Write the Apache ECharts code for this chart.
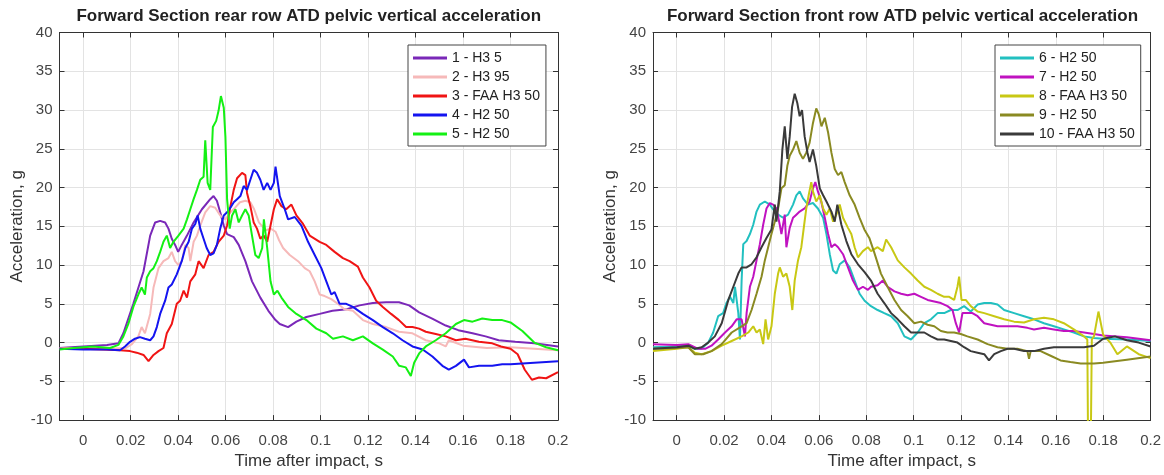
<!DOCTYPE html>
<html>
<head>
<meta charset="utf-8">
<script src="https://cdn.jsdelivr.net/npm/echarts@6/dist/echarts.min.js"></script>
<style>
  html, body { margin: 0; padding: 0; background: #fff; }
  #chart { width: 1164px; height: 475px; }
</style>
</head>
<body>
<div id="chart"></div>
<script>
// series names / colours
const namesRear = ['1 - H3 5', '2 - H3 95', '3 - FAA H3 50', '4 - H2 50', '5 - H2 50']
const namesFront = ['6 - H2 50', '7 - H2 50', '8 - FAA H3 50', '9 - H2 50', '10 - FAA H3 50']
const colorsRear = ['#7a28b8', '#f6b9b9', '#f01414', '#1414f0', '#14f014']
const colorsFront = ['#22c0c0', '#c012c0', '#c8c814', '#8a8a22', '#3a3a3a']

// [time s, acceleration g]
const s1 = [[-0.01,-0.7],[-0.005,-0.6],[0,-0.5],[0.005,-0.4],[0.01,-0.3],[0.0148,-0.1],[0.0169,1.2],[0.0211,5],[0.0254,9.2],[0.0282,13.8],[0.0303,15.5],[0.0324,15.7],[0.0345,15.5],[0.0359,14.7],[0.0373,13.4],[0.0387,12.6],[0.040,11.7],[0.0415,12.6],[0.0437,13.8],[0.0465,15.5],[0.05,17.2],[0.0535,18.5],[0.0549,18.9],[0.0563,18.3],[0.0577,16.8],[0.0592,15.1],[0.0606,14],[0.0634,13.6],[0.0655,12.6],[0.0683,10.5],[0.0711,7.9],[0.0746,5.8],[0.078,4.1],[0.081,2.9],[0.0828,2.4],[0.0863,2.0],[0.0898,2.7],[0.094,3.3],[0.0996,3.7],[0.105,4.1],[0.111,4.3],[0.1164,4.8],[0.122,5.1],[0.1276,5.2],[0.133,5.2],[0.1373,4.8],[0.1415,3.9],[0.147,3.1],[0.1527,2.2],[0.158,1.6],[0.164,1.2],[0.1695,0.8],[0.175,0.3],[0.182,0.1],[0.19,-0.1],[0.2,-0.5]]
const s2 = [[-0.01,-0.7],[0,-0.7],[0.01,-0.8],[0.018,-0.7],[0.0205,-0.2],[0.0232,0.8],[0.0246,2.0],[0.026,1.2],[0.0282,3.7],[0.0296,7.1],[0.0317,9.6],[0.0338,10.5],[0.0359,10.9],[0.0373,11.7],[0.0387,10.5],[0.0401,10],[0.0415,10.5],[0.043,12.6],[0.0444,12.2],[0.0451,10.5],[0.0465,13],[0.0479,13.8],[0.0493,15.1],[0.0514,16.8],[0.0535,17.6],[0.0556,17.4],[0.0577,16.4],[0.0599,15.9],[0.062,16.8],[0.064,17.4],[0.066,18.1],[0.0683,18.3],[0.0704,18.1],[0.072,17.2],[0.074,15.5],[0.0768,14.5],[0.079,14.7],[0.081,14.3],[0.0825,13.2],[0.0842,12.2],[0.087,11.3],[0.0905,10.5],[0.0933,9.6],[0.0954,9.2],[0.0975,7.9],[0.0996,6.2],[0.1017,6.0],[0.1045,5.6],[0.1073,5.0],[0.110,4.3],[0.1136,4.1],[0.1178,2.9],[0.122,2.4],[0.1276,2.0],[0.133,1.4],[0.1387,1.2],[0.1443,0.3],[0.15,-0.1],[0.1527,-0.5],[0.154,0.3],[0.16,-0.4],[0.17,-0.7],[0.18,-0.6],[0.19,-0.8],[0.2,-1]]
const s3 = [[-0.01,-0.8],[0,-0.8],[0.0085,-0.9],[0.0155,-1],[0.0197,-1.1],[0.0225,-1.3],[0.0254,-1.6],[0.0275,-2.4],[0.0296,-1.6],[0.0317,-1.1],[0.0338,-0.7],[0.0352,1.2],[0.0373,2.4],[0.0394,5],[0.0408,5.4],[0.0423,6.7],[0.0437,5.8],[0.0451,7.9],[0.0472,8.8],[0.0486,10.5],[0.0507,9.6],[0.0528,11.3],[0.0549,11.7],[0.057,13],[0.0592,13.8],[0.0606,15.1],[0.062,17.6],[0.0634,19.7],[0.0648,21.2],[0.0669,21.9],[0.0683,21.6],[0.069,19.3],[0.0704,17.6],[0.0718,15.5],[0.0732,14.7],[0.0746,13.4],[0.076,13.8],[0.0775,13],[0.0789,15.1],[0.0803,17.2],[0.0817,18.5],[0.0835,17.6],[0.0855,17.2],[0.0877,17.8],[0.0898,16.4],[0.0926,15.3],[0.0954,13.8],[0.0996,13],[0.1024,12.6],[0.1059,11.7],[0.1094,10.9],[0.1122,10.5],[0.1157,9.8],[0.1178,8.4],[0.1206,7.1],[0.1234,5.4],[0.1262,4.6],[0.1297,3.7],[0.133,2.9],[0.136,2.0],[0.1387,2.0],[0.1415,1.8],[0.1443,1.4],[0.1485,1.1],[0.1527,0.8],[0.157,0.3],[0.161,0.5],[0.1667,0.1],[0.1723,-0.1],[0.176,-0.5],[0.18,-0.8],[0.183,-1.5],[0.186,-3.5],[0.189,-4.8],[0.192,-4.5],[0.195,-4.6],[0.2,-3.8]]
const s4 = [[-0.01,-0.8],[0,-0.9],[0.01,-0.9],[0.0155,-1],[0.0176,-0.5],[0.0197,0.1],[0.0218,0.5],[0.0239,0.7],[0.026,0.5],[0.0282,0.3],[0.0296,0.8],[0.031,2],[0.0324,3.7],[0.0345,5.4],[0.0359,7.1],[0.0373,7.5],[0.0394,8.8],[0.0415,10.5],[0.043,12.2],[0.0444,13],[0.0458,14.7],[0.0472,15.3],[0.0482,16.4],[0.0493,14.7],[0.0507,13.4],[0.052,12.2],[0.0535,11.3],[0.0549,11.5],[0.0563,12.6],[0.0577,14.7],[0.0592,16.4],[0.0606,16.8],[0.062,17.4],[0.0634,18.1],[0.0648,18.5],[0.0662,18.9],[0.0676,20.2],[0.069,19.7],[0.0704,21],[0.0718,22.3],[0.0732,21.9],[0.0746,21],[0.076,19.7],[0.0775,20.6],[0.0789,19.7],[0.0803,20.6],[0.081,22.7],[0.0828,18.9],[0.0849,17.2],[0.0863,15.9],[0.0891,16.2],[0.0919,15.1],[0.0947,13],[0.0975,11.3],[0.1003,9.6],[0.1024,7.9],[0.1045,6.2],[0.1059,6.5],[0.108,5],[0.1108,5],[0.1136,4.6],[0.1178,3.7],[0.122,2.9],[0.1262,2.0],[0.1304,1.2],[0.1345,0.3],[0.1387,-0.5],[0.143,-0.9],[0.1471,-1.8],[0.1513,-3.0],[0.154,-3.5],[0.157,-3.0],[0.1604,-2.2],[0.1625,-3.2],[0.1667,-3.0],[0.1723,-3.0],[0.1765,-2.8],[0.18,-2.8],[0.19,-2.6],[0.2,-2.4]]
const s5 = [[-0.01,-0.9],[-0.004,-0.7],[0.004,-0.5],[0.0113,-0.7],[0.0148,-0.3],[0.0169,0.8],[0.019,2.4],[0.0211,4.6],[0.0232,6.2],[0.0246,7.1],[0.026,6.2],[0.0268,8.4],[0.0282,9.2],[0.0296,9.6],[0.031,10.5],[0.0324,11.7],[0.0338,13],[0.0352,13.8],[0.0366,12.2],[0.038,13],[0.0401,13.8],[0.0423,14.7],[0.0437,15.9],[0.0451,17.2],[0.0465,18.5],[0.0479,19.7],[0.0493,21],[0.0507,21.4],[0.0514,26.1],[0.0524,20.6],[0.0535,19.7],[0.0546,27.8],[0.056,28.6],[0.057,29.9],[0.058,31.8],[0.0592,30.3],[0.0599,26.5],[0.0606,18.5],[0.0617,14.7],[0.0627,16.4],[0.0641,17.2],[0.0655,15.5],[0.0669,16.4],[0.0683,17.2],[0.0697,16.4],[0.0711,13.8],[0.0725,11.3],[0.0739,10.9],[0.0754,12.2],[0.0761,15.9],[0.0775,12.2],[0.0789,7.9],[0.0803,6.2],[0.0818,6.7],[0.0835,5.8],[0.0863,4.6],[0.0898,3.7],[0.094,2.9],[0.0982,1.8],[0.1024,1.2],[0.1052,0.5],[0.1094,0.8],[0.1136,0.3],[0.1178,0.8],[0.122,-0.1],[0.1262,-0.9],[0.1304,-1.8],[0.1331,-3],[0.1359,-3.2],[0.138,-4.3],[0.1394,-2.6],[0.1415,-1.4],[0.1443,-0.5],[0.1485,0.3],[0.1527,1.2],[0.157,2.4],[0.1604,2.9],[0.164,2.7],[0.1681,3.1],[0.1723,2.9],[0.1765,2.9],[0.18,2.6],[0.185,1.5],[0.19,0],[0.195,-0.6],[0.2,-1]]
const s6 = [[-0.01,-0.6],[0,-0.5],[0.0049,-0.4],[0.0077,-0.8],[0.0105,-0.8],[0.0133,0],[0.0154,1.3],[0.0175,3.4],[0.0196,3.8],[0.021,5.1],[0.0225,5.9],[0.0239,5.1],[0.0246,7.2],[0.026,3.8],[0.0267,0.4],[0.0274,8.0],[0.0281,12.7],[0.0295,13.1],[0.0309,14],[0.0323,15.2],[0.0337,16.9],[0.0351,17.8],[0.0372,18.2],[0.0393,17.8],[0.0414,16.9],[0.0428,16.5],[0.0449,16.1],[0.047,16.5],[0.0491,17.8],[0.0505,19.0],[0.0519,19.5],[0.0533,18.6],[0.0554,17.8],[0.0575,18],[0.0596,17.3],[0.0618,16.1],[0.0632,14],[0.0646,11.4],[0.066,9.3],[0.0674,8.9],[0.0688,10.1],[0.0709,10.6],[0.073,9.7],[0.0751,8],[0.0772,6.3],[0.0793,5.4],[0.082,4.7],[0.0848,4.2],[0.0876,3.8],[0.0905,3.4],[0.0933,2.5],[0.0961,0.8],[0.0989,0.4],[0.1017,1.3],[0.1045,2.5],[0.1073,3],[0.1101,3.8],[0.1129,3.8],[0.1157,4.2],[0.1185,4.2],[0.1213,4.7],[0.1241,4],[0.127,4.9],[0.1298,5.1],[0.1326,5.1],[0.1354,4.9],[0.1382,4.2],[0.1424,3.8],[0.1466,3.4],[0.1508,3],[0.155,2.5],[0.1592,2.1],[0.1634,1.7],[0.1676,1.3],[0.1719,0.8],[0.1761,0.6],[0.18,0.5],[0.19,0.4],[0.2,0.2]]
const s7 = [[-0.01,-0.2],[0,-0.3],[0.0049,-0.2],[0.0091,-0.8],[0.012,-0.8],[0.0147,-0.4],[0.0175,0.4],[0.0204,1.3],[0.0232,2.1],[0.0253,3],[0.0274,3],[0.0288,0.8],[0.0295,3.8],[0.0309,7.2],[0.0323,8.5],[0.0337,10.6],[0.0351,12.7],[0.0365,15.2],[0.0379,17.3],[0.0393,18],[0.0407,17.8],[0.0421,17.3],[0.0435,15.2],[0.0442,14],[0.0456,16.5],[0.0463,12.3],[0.0477,14.8],[0.0491,16.1],[0.0505,16.5],[0.0519,16.9],[0.054,17.3],[0.0561,18.2],[0.0575,19.9],[0.0585,20.7],[0.0596,19.5],[0.061,18.2],[0.0625,16.1],[0.0639,14],[0.0653,12.3],[0.0667,12.7],[0.0681,12.3],[0.0702,11.4],[0.0723,9.7],[0.0744,8],[0.0765,6.8],[0.0786,7.2],[0.0807,6.8],[0.082,7.2],[0.0848,7.4],[0.087,8],[0.089,7.2],[0.0919,6.6],[0.0947,6.3],[0.0975,6.1],[0.1003,6.3],[0.1031,5.9],[0.1059,5.5],[0.1087,5.3],[0.1115,5.1],[0.1143,4.7],[0.1164,4.2],[0.1178,2.5],[0.1192,1.3],[0.1206,3.8],[0.1227,3.8],[0.1248,3.8],[0.127,3.4],[0.1298,2.5],[0.1326,2.3],[0.1354,2.1],[0.1396,2.1],[0.1438,2.1],[0.148,1.9],[0.1508,1.7],[0.155,1.9],[0.1592,1.7],[0.1634,1.5],[0.1676,1.5],[0.1719,1.3],[0.1761,1.1],[0.18,0.9],[0.19,0.7],[0.2,0.3]]
const s8 = [[-0.01,-1.1],[0,-0.8],[0.0049,-0.6],[0.0077,-1.3],[0.0105,-1.5],[0.0147,-1.1],[0.019,-0.4],[0.0232,0.2],[0.0274,0.8],[0.0302,1.3],[0.0323,2.1],[0.0337,1.3],[0.0351,1.7],[0.0365,-0.2],[0.0375,3],[0.0386,0.4],[0.04,2.1],[0.0414,6.3],[0.0428,8.9],[0.0435,9.7],[0.0449,8.5],[0.0463,8.9],[0.0477,7.2],[0.0488,4.2],[0.0498,8],[0.0512,10.6],[0.0526,12.3],[0.0538,15.2],[0.0547,17.3],[0.0557,19],[0.0568,20.7],[0.0575,19.5],[0.0589,18.2],[0.0604,19],[0.0618,17.3],[0.0632,16.5],[0.0646,17.3],[0.066,15.6],[0.0674,16.5],[0.0688,17.8],[0.0702,16.1],[0.0723,14.8],[0.0737,14],[0.0751,12.3],[0.0765,11],[0.0786,11.8],[0.0807,12.3],[0.082,11.8],[0.0848,12.3],[0.087,11.8],[0.0884,13.3],[0.0905,12.3],[0.0933,10.6],[0.0961,9.7],[0.0989,8.9],[0.1017,8],[0.1045,7.2],[0.1073,6.8],[0.1101,6.3],[0.1129,5.9],[0.115,5.9],[0.1171,5.5],[0.1185,7.2],[0.1192,8.5],[0.1202,5.5],[0.122,5.5],[0.1241,4.7],[0.127,4],[0.1298,3.8],[0.134,3.4],[0.1382,3],[0.1424,2.7],[0.1466,2.6],[0.1508,3],[0.155,3.2],[0.1592,3],[0.1634,2.5],[0.1676,1.7],[0.1719,0.8],[0.1733,0.4],[0.1736,-12],[0.1748,-12],[0.1752,0.4],[0.1761,0.8],[0.178,4],[0.18,1],[0.183,0],[0.186,-1.5],[0.19,-0.5],[0.195,-1.5],[0.2,-2]]
const s9 = [[-0.01,-0.8],[0,-0.7],[0.0049,-0.6],[0.0077,-1.5],[0.0112,-1.5],[0.0147,-1.1],[0.019,-0.2],[0.0232,1.3],[0.0274,2.1],[0.0295,2.5],[0.0316,4.2],[0.0337,6.3],[0.0358,8.5],[0.0372,10.6],[0.0386,12.3],[0.04,14],[0.0414,15.6],[0.0428,17.3],[0.0442,19.9],[0.0456,20.3],[0.0467,22.8],[0.0477,24.1],[0.0491,24.9],[0.0505,26],[0.0519,24.5],[0.0533,23.7],[0.0547,24.5],[0.0561,25.8],[0.0575,28.3],[0.0589,30.2],[0.06,29.4],[0.0611,27.9],[0.0625,29],[0.0639,27.1],[0.0653,24.5],[0.0667,22.4],[0.0681,21.6],[0.0695,22],[0.0709,20.7],[0.073,19],[0.0751,17.8],[0.0772,16.1],[0.0792,14.6],[0.0813,13.5],[0.0834,11.6],[0.0862,8.9],[0.089,7.2],[0.0919,5.5],[0.0947,4.2],[0.0975,3.4],[0.1003,2.5],[0.1031,2.7],[0.1059,2.3],[0.1087,2.1],[0.1115,1.5],[0.1143,1.3],[0.1171,1.3],[0.1199,1.1],[0.1227,0.8],[0.127,0.4],[0.1312,-0.2],[0.1354,-0.6],[0.1396,-0.8],[0.1438,-0.8],[0.148,-1.1],[0.1487,-2.1],[0.1494,-1.1],[0.1536,-1.1],[0.1578,-1.7],[0.162,-2.3],[0.1662,-2.5],[0.1705,-2.7],[0.1761,-2.7],[0.18,-2.6],[0.19,-2.2],[0.2,-1.8]]
const s10 = [[-0.01,-0.8],[0,-0.6],[0.0049,-0.4],[0.0077,-0.8],[0.0105,-0.6],[0.0133,0],[0.0161,0.8],[0.019,2.5],[0.0218,5.5],[0.0239,7.2],[0.026,8.9],[0.0274,9.7],[0.0295,9.7],[0.0316,10.1],[0.0337,11],[0.0358,12.3],[0.0379,13.5],[0.04,14.6],[0.0414,17.8],[0.0421,15.6],[0.0435,19.5],[0.0446,24.9],[0.0456,27.9],[0.0467,23.7],[0.0477,26.6],[0.0487,30.4],[0.0498,32.1],[0.0509,30.9],[0.0519,29.2],[0.0529,30],[0.054,26.6],[0.0552,24.5],[0.0561,23.3],[0.0575,24.9],[0.0589,22.8],[0.0604,19.9],[0.0618,19],[0.0632,18.2],[0.0653,16.9],[0.0667,15.6],[0.0678,17.8],[0.0695,15.2],[0.0716,13.1],[0.0737,11.4],[0.0765,10.1],[0.0793,9.1],[0.082,8],[0.0848,6.3],[0.0876,5.1],[0.0905,3.8],[0.0933,3],[0.0961,2.1],[0.0989,1.3],[0.1017,1.3],[0.1045,1.3],[0.1073,0.8],[0.1101,0.4],[0.1129,0.4],[0.1157,0.2],[0.1185,0],[0.1213,-0.6],[0.1241,-1.1],[0.127,-1.3],[0.1298,-1.5],[0.1318,-2.3],[0.134,-1.5],[0.1368,-1.1],[0.1396,-0.8],[0.1424,-0.8],[0.1466,-1.1],[0.1508,-1.1],[0.155,-0.8],[0.1592,-0.6],[0.1634,-0.6],[0.1676,-0.6],[0.1719,-0.6],[0.1761,-0.4],[0.18,0.5],[0.185,0.8],[0.19,0.3],[0.195,0],[0.2,-0.5]]

const rearData = [s1, s2, s3, s4, s5]
const frontData = [s6, s7, s8, s9, s10]

const FONT = '"Liberation Sans", Arial, sans-serif'
const AXIS_COLOR = '#333'

// bottom + top x axes, left + right y axes for one panel (MATLAB box look)
function xAxes(g) {
  const base = {
    gridIndex: g, type: 'value', min: -0.01, max: 0.2,
    splitNumber: 10, minInterval: 0.02, maxInterval: 0.02,
    axisLine: {show: true, onZero: false, lineStyle: {color: AXIS_COLOR}},
    axisTick: {show: true, inside: true, length: 5, lineStyle: {color: AXIS_COLOR}}
  }
  return [
    Object.assign({}, base, {
      position: 'bottom',
      axisLabel: {
        margin: 13, fontSize: 15, color: '#444', fontFamily: FONT,
        formatter: v => v < -0.001 ? '' : String(+v.toFixed(2))
      },
      splitLine: {show: true, lineStyle: {color: '#e3e3e3'}},
      name: 'Time after impact, s', nameLocation: 'middle', nameGap: 30,
      nameTextStyle: {fontSize: 17, color: '#333', fontFamily: FONT}
    }),
    Object.assign({}, base, {position: 'top', axisLabel: {show: false}, splitLine: {show: false}})
  ]
}
function yAxes(g) {
  const base = {
    gridIndex: g, type: 'value', min: -10, max: 40, interval: 5,
    axisLine: {show: true, onZero: false, lineStyle: {color: AXIS_COLOR}},
    axisTick: {show: true, inside: true, length: 5, lineStyle: {color: AXIS_COLOR}}
  }
  return [
    Object.assign({}, base, {
      position: 'left',
      axisLabel: {margin: 7, fontSize: 15, color: '#444', fontFamily: FONT},
      splitLine: {show: true, lineStyle: {color: '#e3e3e3'}},
      name: 'Acceleration, g', nameLocation: 'middle', nameGap: 34, nameRotate: 90,
      nameTextStyle: {fontSize: 17, color: '#333', fontFamily: FONT}
    }),
    Object.assign({}, base, {position: 'right', axisLabel: {show: false}, splitLine: {show: false}})
  ]
}

function makeSeries(names, colors, data, axisIdx) {
  return names.map((n, i) => ({
    type: 'line', name: n, data: data[i],
    xAxisIndex: axisIdx, yAxisIndex: axisIdx,
    color: colors[i], showSymbol: false, symbol: 'none',
    lineStyle: {width: 2, color: colors[i]},
    clip: true
  }))
}

function legend(names, left) {
  return {
    data: names, left: left, top: 45, orient: 'vertical',
    icon: 'rect', itemWidth: 34, itemHeight: 3, itemGap: 3,
    padding: [5, 6, 4, 5],
    backgroundColor: '#fff', borderColor: '#444', borderWidth: 1,
    textStyle: {fontSize: 14, lineHeight: 16, color: '#222', fontFamily: FONT}
  }
}

let myChart = echarts.init(document.getElementById('chart'))
myChart.setOption({
  animation: false,
  backgroundColor: '#fff',
  title: [
    {text: 'Forward Section rear row ATD pelvic vertical acceleration', left: 308.75, top: 8, textAlign: 'center', padding: 0,
      textStyle: {fontSize: 17, fontWeight: 'bold', color: '#222', fontFamily: FONT}},
    {text: 'Forward Section front row ATD pelvic vertical acceleration', left: 902.5, top: 8, textAlign: 'center', padding: 0,
      textStyle: {fontSize: 17, fontWeight: 'bold', color: '#222', fontFamily: FONT}}
  ],
  legend: [legend(namesRear, 408), legend(namesFront, 995)],
  grid: [
    {left: 59.5, top: 32.5, width: 498.5, height: 392.5},
    {left: 653, top: 32.5, width: 499, height: 392.5}
  ],
  xAxis: [...xAxes(0), ...xAxes(1)],
  yAxis: [...yAxes(0), ...yAxes(1)],
  series: [
    ...makeSeries(namesRear, colorsRear, rearData, 0),
    ...makeSeries(namesFront, colorsFront, frontData, 2)
  ]
})
</script>
</body>
</html>
